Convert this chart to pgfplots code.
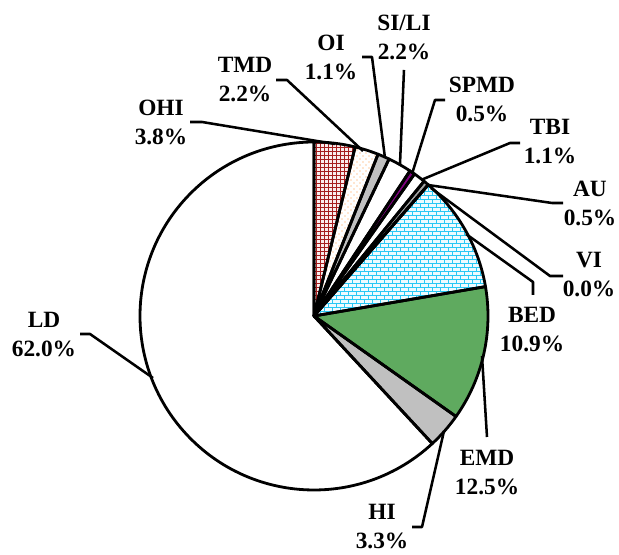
\documentclass[border=0pt]{standalone}
\usepackage{fontspec}
\setmainfont{Liberation Serif}
\newfontfamily\lblfont{Liberation Serif}
\usepackage{pgfplots}
\pgfplotsset{compat=1.18}
\usetikzlibrary{patterns.meta}

\definecolor{ohired}{RGB}{165,30,30}
\definecolor{ohibg}{RGB}{250,236,236}
\definecolor{tmdorange}{RGB}{255,150,60}
\definecolor{slicegray}{RGB}{192,192,192}
\definecolor{spmdpurple}{RGB}{128,0,128}
\definecolor{bedcyan}{RGB}{40,200,245}
\definecolor{bedbg}{RGB}{238,251,255}
\definecolor{emdgreen}{RGB}{95,170,95}

\tikzdeclarepattern{name=finegrid, type=uncolored,
  bottom left={(-0.5pt,-0.5pt)}, top right={(3.5pt,3.5pt)}, tile size={(3pt,3pt)},
  code={\draw[line width=0.55pt] (0,-0.5pt)--(0,3.5pt) (-0.5pt,0)--(3.5pt,0);}}
\tikzdeclarepattern{name=smallbricks, type=uncolored,
  bottom left={(-0.5pt,-0.5pt)}, top right={(6.5pt,6.5pt)}, tile size={(6pt,6pt)},
  code={\draw[line width=0.7pt] (0,0)--(6pt,0) (0,3pt)--(6pt,3pt)
        (0,0)--(0,3pt) (3pt,3pt)--(3pt,6pt);}}
\tikzdeclarepattern{name=sparsedots, type=uncolored,
  bottom left={(-0.5pt,-0.5pt)}, top right={(5pt,5pt)}, tile size={(4.5pt,4.5pt)},
  code={\fill (0,0) circle (0.45pt); \fill (2.25pt,2.25pt) circle (0.45pt);}}

% radius of the pie: 174 px at 0.75pt per px
\newcommand{\R}{130.5pt}
% slices as cumulative percentages, clockwise from 12 o'clock
\newcommand{\slicefill}[3]{%
  \fill[#3] (axis cs:0,0) -- ++({90-3.6*#1}:\R)
    arc[start angle={90-3.6*#1}, end angle={90-3.6*#2}, radius=\R] -- cycle;}
\newcommand{\sliceline}[3]{%
  \draw[line width=2.1pt, line join=round] (axis cs:0,0) -- ++({90-3.6*#1}:\R)
    arc[start angle={90-3.6*#1}, end angle={90-3.6*#2}, radius=\R] -- cycle;}
\newcommand{\pieslices}[1]{%
  #1{0}{3.8}{fill=ohibg, postaction={pattern={finegrid}, pattern color=ohired}}% OHI
  #1{3.8}{6.0}{fill=white, postaction={pattern={sparsedots}, pattern color=tmdorange}}% TMD
  #1{6.0}{7.1}{fill=slicegray}% OI
  #1{7.1}{9.3}{fill=white}% SI/LI
  #1{9.3}{9.8}{fill=spmdpurple}% SPMD
  #1{9.8}{10.9}{fill=white}% TBI
  #1{10.9}{11.4}{fill=slicegray!85!black}% AU
  #1{11.4}{22.3}{fill=bedbg, postaction={pattern={smallbricks}, pattern color=bedcyan}}% BED
  #1{22.3}{34.8}{fill=emdgreen}% EMD
  #1{34.8}{38.1}{fill=slicegray}% HI
  #1{38.1}{100}{fill=white}% LD
}

\begin{document}
\begin{tikzpicture}[
    lbl/.style={font=\lblfont\bfseries\fontsize{17.5}{21.75}\selectfont,
      align=center, inner sep=0pt},
    leader/.style={line width=1.9pt, line join=round}
  ]
\begin{axis}[
    x=0.75pt, y=0.75pt,
    xmin=-314, xmax=305, ymin=-239, ymax=316,
    hide axis, clip=false
  ]
  \path (axis cs:-314,-239) rectangle (axis cs:305,316);
  \pieslices\slicefill
  \pieslices\sliceline
  % VI, 0.0%
  \draw[line width=2.1pt] (axis cs:0,0) -- ++({90-3.6*11.4}:\R);

  % leader lines
  \draw[leader] (axis cs:-124,194) -- (axis cs:-112,194) -- (axis cs:21,172);
  \draw[leader] (axis cs:-38,236) -- (axis cs:-27,236) -- (axis cs:49,165);
  \draw[leader] (axis cs:48,259) -- (axis cs:58,259) -- (axis cs:71,158);
  \draw[leader] (axis cs:90,246) -- (axis cs:86,152);
  \draw[leader] (axis cs:131,216) -- (axis cs:121,216) -- (axis cs:98,142);
  \draw[leader] (axis cs:206,173) -- (axis cs:196,173) -- (axis cs:107,136);
  \draw[leader] (axis cs:249,113) -- (axis cs:238,113) -- (axis cs:114,131);
  \draw[leader] (axis cs:249,40) -- (axis cs:236,40) -- (axis cs:117,128);
  \draw[leader] (axis cs:219,21) -- (axis cs:219,34) -- (axis cs:152,82);
  \draw[leader] (axis cs:173,-121) -- (axis cs:168,-40);
  \draw[leader] (axis cs:98,-211) -- (axis cs:108,-211) -- (axis cs:130,-115);
  \draw[leader] (axis cs:-234,-18) -- (axis cs:-224,-18) -- (axis cs:-161,-62);

  % labels
  \node[lbl] at (axis cs:-153,194) {OHI\\3.8\%};
  \node[lbl] at (axis cs:-69,236) {TMD\\2.2\%};
  \node[lbl] at (axis cs:17,259) {OI\\1.1\%};
  \node[lbl] at (axis cs:90,279) {SI/LI\\2.2\%};
  \node[lbl] at (axis cs:168,217) {SPMD\\0.5\%};
  \node[lbl] at (axis cs:236,174) {TBI\\1.1\%};
  \node[lbl] at (axis cs:276,113) {AU\\0.5\%};
  \node[lbl] at (axis cs:275,41) {VI\\0.0\%};
  \node[lbl] at (axis cs:218,-14) {BED\\10.9\%};
  \node[lbl] at (axis cs:173,-157) {EMD\\12.5\%};
  \node[lbl] at (axis cs:68,-211) {HI\\3.3\%};
  \node[lbl] at (axis cs:-270,-19) {LD\\62.0\%};
\end{axis}
\end{tikzpicture}
\end{document}
